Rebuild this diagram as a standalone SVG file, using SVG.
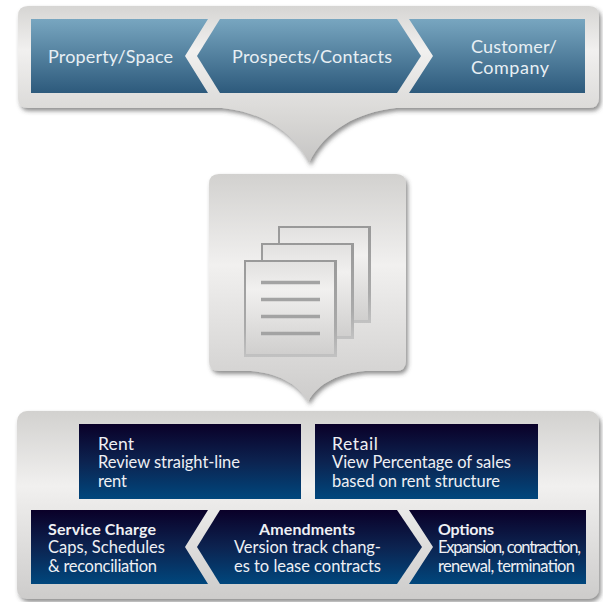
<svg xmlns="http://www.w3.org/2000/svg" width="603" height="602" viewBox="0 0 603 602">
<style>
text{font-family:"Lato","Liberation Sans",sans-serif;font-size:16.500px;fill:#eef0f4}
.t{fill:#e8eff4;font-size:18px}
.h{font-size:17.500px}
.b{font-weight:700;font-size:16px}
.pa{fill:url(#panel);filter:url(#sh)}
.pt{fill:url(#panelTop);filter:url(#sh)}
.blue{fill:url(#blue)}
.navy{fill:url(#navy)}
.edge{fill:url(#edgeG);filter:url(#soft)}
.pg{fill:url(#page);filter:url(#soft)}
.ln{stroke:#a3a3a3;stroke-width:3.500}
</style>
<defs>
<linearGradient id="panel" x1="0" y1="0" x2="0" y2="1"><stop offset="0" stop-color="#d2d1cf"/><stop offset=".4" stop-color="#f1f0ef"/><stop offset="1" stop-color="#cdcccb"/></linearGradient>
<linearGradient id="panelTop" x1="0" y1="0" x2="0" y2="1"><stop offset="0" stop-color="#d6d5d3"/><stop offset=".28" stop-color="#f1f0ef"/><stop offset=".7" stop-color="#d9d8d6"/><stop offset="1" stop-color="#c6c5c4"/></linearGradient>
<linearGradient id="blue" x1="0" y1="0" x2="0" y2="1"><stop offset="0" stop-color="#78a6c0"/><stop offset="1" stop-color="#2d5a7c"/></linearGradient>
<linearGradient id="navy" x1="0" y1="0" x2="0" y2="1"><stop offset="0" stop-color="#0a0028"/><stop offset=".5" stop-color="#0c2350"/><stop offset="1" stop-color="#00477d"/></linearGradient>
<linearGradient id="page" x1="0" y1="0" x2="0" y2="1"><stop offset="0" stop-color="#e2e1e0"/><stop offset=".3" stop-color="#f1f0ef"/><stop offset="1" stop-color="#d0cfce"/></linearGradient>
<linearGradient id="edgeG" x1="0" y1="0" x2="0" y2="1"><stop offset="0" stop-color="#999"/><stop offset=".7" stop-color="#aaa"/><stop offset="1" stop-color="#c2c2c2"/></linearGradient>
<filter id="sh" x="-5%" y="-5%" width="112%" height="115%"><feDropShadow dx="2" dy="3" stdDeviation="2" flood-color="#444" flood-opacity=".6"/></filter>
<filter id="soft" x="-5%" y="-5%" width="110%" height="110%"><feGaussianBlur stdDeviation=".7"/></filter>
</defs>
<g id="sources">
<path class="pt" d="M28 6H589Q599 6 599 16V98Q599 108 589 108H396C358 112 325 130 309 163C293 130 260 112 222 108H28Q18 108 18 98V16Q18 6 28 6Z"/>
<g id="property-space"><polygon class="blue" points="31,19 208,19 185,56 208,93 31,93"/><text class="t" x="48" y="63" textLength="125">Property/Space</text></g>
<g id="prospects-contacts"><polygon class="blue" points="220,19 397,19 421,56 397,93 220,93 197,56"/><text class="t" x="232" y="63" textLength="160">Prospects/Contacts</text></g>
<g id="customer-company"><polygon class="blue" points="409,19 585,19 585,93 409,93 433,56"/><text class="t" x="471" y="53" textLength="86">Customer/</text><text class="t" x="471" y="74" textLength="78">Company</text></g>
</g>
<g id="documents">
<path class="pa" d="M219 174H396Q406 174 406 184V361Q406 371 396 371H365C340 373 318 383 308 402C298 383 276 373 251 371H219Q209 371 209 361V184Q209 174 219 174Z"/>
<rect class="edge" x="278" y="226" width="93" height="97"/>
<rect class="pg" x="280" y="228" width="88" height="92"/>
<rect class="edge" x="261" y="243" width="93" height="96"/>
<rect class="pg" x="263" y="245" width="88" height="91"/>
<rect class="edge" x="244" y="260" width="93" height="97"/>
<rect class="pg" x="246" y="262" width="88" height="92"/>
<path class="ln" d="M261 282.500H320M261 299.500H320M261 316.500H320M261 333.500H320"/>
</g>
<g id="details">
<rect class="pa" x="17" y="411" width="582" height="188" rx="10"/>
<g id="rent"><rect class="navy" x="79" y="424" width="222" height="75"/><text class="h" x="98" y="449.500" textLength="36">Rent</text><text x="98" y="467.500" textLength="142">Review straight-line</text><text x="98" y="486.500" textLength="29">rent</text></g>
<g id="retail"><rect class="navy" x="315" y="424" width="223" height="75"/><text class="h" x="332" y="449.500" textLength="46">Retail</text><text x="332" y="467.500" textLength="179">View Percentage of sales</text><text x="332" y="486.500" textLength="168">based on rent structure</text></g>
<g id="service-charge"><polygon class="navy" points="31,510 208,510 185,547 208,584 31,584"/><text class="b" x="48" y="534.500" textLength="108">Service Charge</text><text x="48" y="552.500" textLength="117">Caps, Schedules</text><text x="48" y="571.500" textLength="109">&amp; reconciliation</text></g>
<g id="amendments"><polygon class="navy" points="220,510 397,510 422,547 397,584 220,584 197,547"/><text class="b" x="259" y="534.500" textLength="96">Amendments</text><text x="234" y="552.500" textLength="147">Version track chang-</text><text x="234" y="571.500" textLength="147">es to lease contracts</text></g>
<g id="options"><polygon class="navy" points="409,510 586,510 586,584 409,584 433,547"/><text class="b" x="438" y="534.500" textLength="56">Options</text><text x="438" y="552.500" textLength="143">Expansion, contraction,</text><text x="438" y="571.500" textLength="137">renewal, termination</text></g>
</g>
</svg>
